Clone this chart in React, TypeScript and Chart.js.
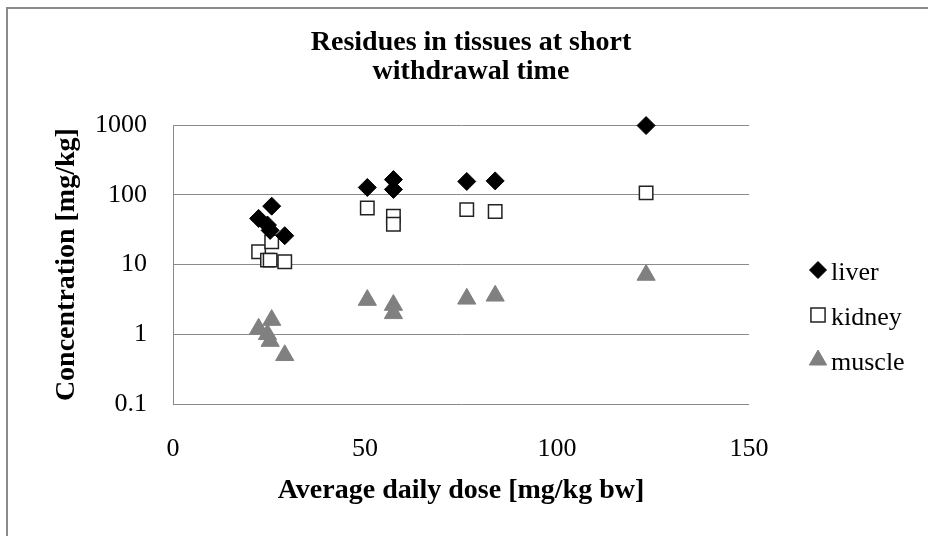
import React, { useEffect, useRef } from 'react';
import { Chart, registerables } from 'chart.js';
import { drawPoint } from 'chart.js/helpers';

Chart.register(...registerables);

// ---- data ----
const doses = [22.3, 24.6, 25.3, 25.7, 29.1, 50.6, 57.4, 57.4, 76.5, 83.9, 123.2];
const liver = [46, 37, 31, 69, 26, 128, 166, 120, 156, 159, 990];
const kidney = [15.3, 11.6, 11.6, 21.2, 11, 65, 49.6, 38, 61.6, 57.7, 107];
const muscle = [1.2, 1.0, 0.8, 1.6, 0.5, 3.1, 2.63, 2.0, 3.23, 3.57, 7.1];
const seriesNames = ['liver', 'kidney', 'muscle'];
const yTickValues = [0.1, 1, 10, 100, 1000];
const yTickLabels = ['0.1', '1', '10', '100', '1000'];
const xTickValues = [0, 50, 100, 150];
const titleLines = ['Residues in tissues at short', 'withdrawal time'];
const xTitle = 'Average daily dose [mg/kg bw]';
const yTitle = 'Concentration [mg/kg]';

const SERIF = '"Liberation Serif", "Times New Roman", serif';
const GRID = '#8a8a8a';

const toPoints = (ys: number[]) => doses.map((x, i) => ({ x, y: ys[i] }));

const sideLegend = {
  id: 'sideLegend',
  afterDraw(chart: any) {
    const ctx = chart.ctx;
    const mx = 818;
    const ys = [270, 315, 360];
    chart.data.datasets.forEach((ds: any, i: number) => {
      const y = ys[i];
      ctx.save();
      ctx.fillStyle = ds.backgroundColor;
      ctx.strokeStyle = ds.borderColor;
      ctx.lineWidth = ds.borderWidth;
      drawPoint(ctx, { pointStyle: ds.pointStyle, radius: ds.legendRadius, borderWidth: ds.borderWidth, rotation: 0 } as any, mx, y);
      ctx.fillStyle = '#000';
      ctx.font = '26px ' + SERIF;
      ctx.textAlign = 'left';
      ctx.textBaseline = 'alphabetic';
      ctx.fillText(ds.label, 831, y + 10);
      ctx.restore();
    });
  },
};

export default function App() {
  const ref = useRef<HTMLCanvasElement | null>(null);

  useEffect(() => {
    if (!ref.current) return;
    const chart = new Chart(ref.current, {
      type: 'scatter',
      data: {
        datasets: [
          {
            label: seriesNames[0],
            data: toPoints(liver),
            pointStyle: 'rectRot',
            pointRadius: 9,
            legendRadius: 8.5,
            backgroundColor: '#000000',
            borderColor: '#000000',
            borderWidth: 1,
            clip: false,
          } as any,
          {
            label: seriesNames[1],
            data: toPoints(kidney),
            pointStyle: 'rect',
            pointRadius: 9.5,
            legendRadius: 10,
            backgroundColor: '#ffffff',
            borderColor: '#222222',
            borderWidth: 1.5,
            clip: false,
          } as any,
          {
            label: seriesNames[2],
            data: toPoints(muscle),
            pointStyle: 'triangle',
            pointRadius: 10.5,
            legendRadius: 10,
            backgroundColor: '#808080',
            borderColor: '#808080',
            borderWidth: 1,
            clip: false,
          } as any,
        ],
      },
      options: {
        responsive: false,
        animation: false,
        devicePixelRatio: 1,
        layout: { padding: { left: 14, right: 0, top: 0, bottom: 0 } },
        plugins: {
          legend: { display: false },
          tooltip: { enabled: false },
          title: {
            display: true,
            text: titleLines,
            color: '#000',
            font: { family: SERIF, size: 28, weight: 'bold', lineHeight: 1.04 },
            padding: { top: 28.5, bottom: 38.5 },
          },
        },
        scales: {
          x: {
            type: 'linear',
            min: 0,
            max: 150,
            afterBuildTicks: (s: any) => {
              s.ticks = xTickValues.map((v) => ({ value: v }));
            },
            afterFit: (s: any) => {
              s.height = 132;
            },
            grid: { display: false, drawTicks: false },
            border: { display: false },
            ticks: {
              color: '#000',
              padding: 30,
              font: { family: SERIF, size: 26 },
            },
            title: {
              display: true,
              text: xTitle,
              color: '#000',
              font: { family: SERIF, size: 28, weight: 'bold', lineHeight: 1.2 },
              padding: { top: 0, bottom: 28 },
            },
          },
          y: {
            type: 'logarithmic',
            min: 0.1,
            max: 1000,
            afterBuildTicks: (s: any) => {
              s.ticks = yTickValues.map((v) => ({ value: v, major: true }));
            },
            afterFit: (s: any) => {
              s.width = 159;
            },
            grid: { color: GRID, lineWidth: 1, drawTicks: false },
            border: { display: true, color: GRID, width: 1 },
            ticks: {
              color: '#000',
              padding: 26,
              font: { family: SERIF, size: 26 },
              callback: (v: any) => {
                const idx = yTickValues.findIndex((t) => Math.abs(t - Number(v)) < 1e-9);
                return idx >= 0 ? yTickLabels[idx] : '';
              },
            },
            title: {
              display: true,
              text: yTitle,
              color: '#000',
              font: { family: SERIF, size: 28, weight: 'bold', lineHeight: 1.2 },
              padding: { top: 36, bottom: 0 },
            },
          },
          spacer: {
            type: 'linear',
            position: 'right',
            display: true,
            afterFit: (s: any) => {
              s.width = 179;
            },
            grid: { display: false, drawTicks: false },
            border: { display: false },
            ticks: { display: false },
          },
        },
      } as any,
      plugins: [sideLegend],
    });
    return () => chart.destroy();
  }, []);

  return (
    <div style={{ position: 'fixed', left: 0, top: 0, width: 928, height: 536, background: '#fff', overflow: 'hidden' }}>
      <div
        style={{
          position: 'absolute',
          left: 6,
          top: 7,
          width: 1200,
          height: 800,
          borderTop: '2px solid #8a8a8a',
          borderLeft: '2px solid #8a8a8a',
          boxSizing: 'border-box',
        }}
      />
      <canvas ref={ref} width={928} height={536} style={{ position: 'absolute', left: 0, top: 0, width: 928, height: 536 }} />
    </div>
  );
}
